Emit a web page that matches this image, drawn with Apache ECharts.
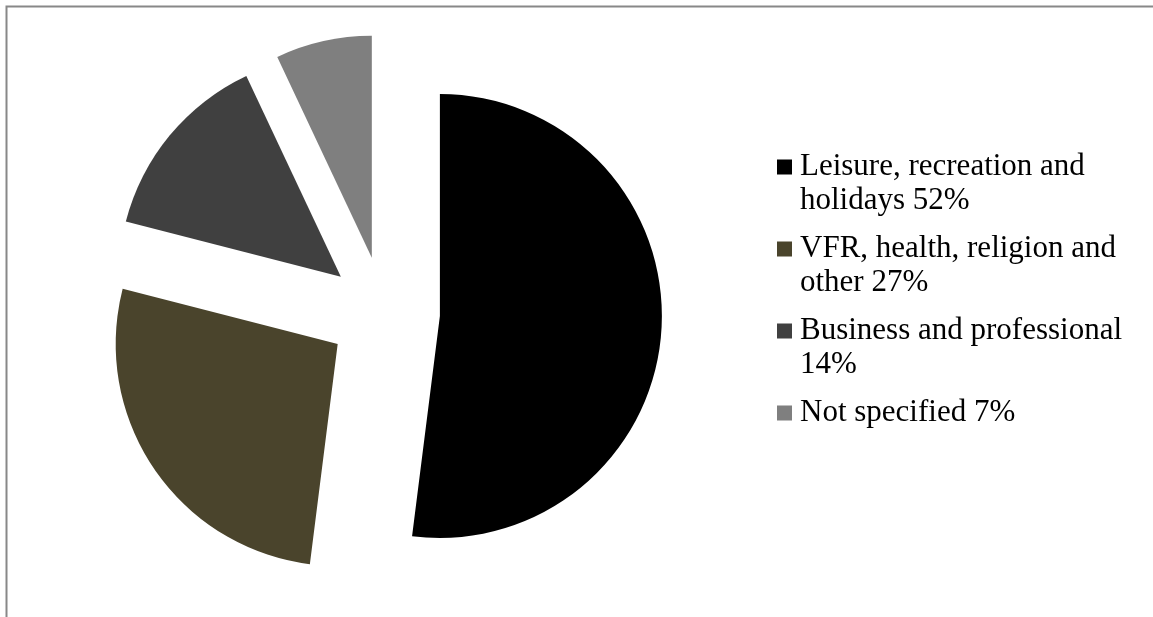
<!DOCTYPE html>
<html>
<head>
<meta charset="utf-8">
<script src="https://cdn.jsdelivr.net/npm/echarts@6/dist/echarts.min.js"></script>
<style>
  html, body { margin: 0; padding: 0; background: #ffffff; }
  #chart { width: 1153px; height: 617px; }
</style>
</head>
<body>
<div id="chart"></div>
<script>
// Purpose of visit, share of arrivals
const categories = [
  'Leisure, recreation and holidays',
  'VFR, health, religion and other',
  'Business and professional',
  'Not specified'
];
const shares = [52, 27, 14, 7];
const colors = ['#000000', '#4a442c', '#404040', '#7f7f7f'];

const legendFont = '31px "Liberation Serif", "Times New Roman", serif';
const legendTextWidth = 340;

// Legend marker: a 15px square placed level with the first text line
const legendIcon = 'path://M0 9.5H15V24.5H0Z M0 0H0.01 M18 68H17.99';

const measureCtx = document.createElement('canvas').getContext('2d');
measureCtx.font = legendFont;

const pieData = categories.map((name, i) => ({
  name: name,
  value: shares[i],
  selected: true,
  itemStyle: { color: colors[i], borderWidth: 0 },
  select: { itemStyle: { color: colors[i], borderWidth: 0 } }
}));

const chart = echarts.init(document.getElementById('chart'), null, { renderer: 'canvas' });
chart.setOption({
  animation: false,
  backgroundColor: '#ffffff',
  graphic: [{
    type: 'polyline',
    shape: { points: [[6.5, 617], [6.5, 6.5], [1153, 6.5]] },
    style: { stroke: '#888888', lineWidth: 2, fill: null },
    silent: true
  }],
  legend: {
    orient: 'vertical',
    left: 777,
    top: 150,
    padding: 0,
    itemGap: 14,
    itemWidth: 18,
    itemHeight: 68,
    selectedMode: false,
    icon: legendIcon,
    data: categories,
    formatter: function (name) {
      const i = categories.indexOf(name);
      const text = name + ' ' + shares[i] + '%';
      // one-line entries get an empty second line so every entry starts at the top slot
      return measureCtx.measureText(text).width <= legendTextWidth ? text + '\n\u00a0' : text;
    },
    textStyle: {
      fontFamily: '"Liberation Serif", "Times New Roman", serif',
      fontSize: 31,
      lineHeight: 34,
      color: '#000000',
      width: legendTextWidth,
      overflow: 'break'
    }
  },
  series: [{
    type: 'pie',
    center: [384, 312.5],
    radius: 222,
    startAngle: 90,
    clockwise: true,
    selectedMode: 'multiple',
    selectedOffset: 56,
    label: { show: false },
    labelLine: { show: false },
    emphasis: { disabled: true },
    data: pieData
  }]
});
</script>
</body>
</html>
